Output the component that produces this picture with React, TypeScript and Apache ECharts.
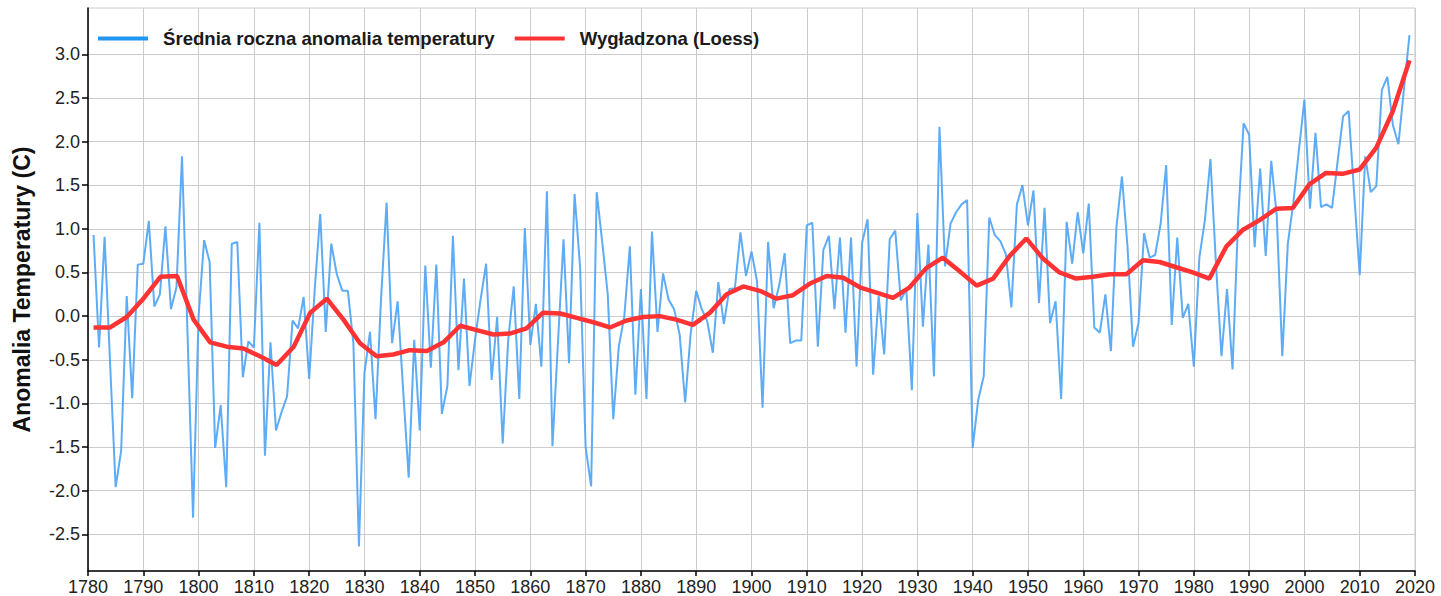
import React, { useEffect, useRef } from "react";
import * as echarts from "echarts";

const START_YEAR = 1781;

// Annual mean temperature anomaly, 1781..2019
const anomalies: number[] = [
  0.93, -0.36, 0.91, -0.55, -1.96, -1.54, 0.23, -0.94, 0.59, // 1781-1789
  0.6, 1.09, 0.11, 0.25, 1.03, 0.08, 0.33, 1.83, -0.2, -2.31, // 1790-1799
  0.0, 0.87, 0.62, -1.51, -1.02, -1.96, 0.83, 0.85, -0.7, -0.29, // 1800-1809
  -0.36, 1.07, -1.6, -0.3, -1.31, -1.1, -0.92, -0.05, -0.14, 0.22, // 1810-1819
  -0.72, 0.3, 1.17, -0.18, 0.83, 0.48, 0.29, 0.29, -0.31, -2.64, // 1820-1829
  -0.65, -0.18, -1.18, 0.2, 1.3, -0.31, 0.17, -0.85, -1.85, -0.27, // 1830-1839
  -1.31, 0.58, -0.59, 0.59, -1.12, -0.8, 0.92, -0.62, 0.43, -0.8, // 1840-1849
  -0.27, 0.19, 0.6, -0.73, -0.01, -1.46, -0.27, 0.34, -0.95, 1.01, // 1850-1859
  -0.33, 0.14, -0.58, 1.43, -1.49, -0.3, 0.88, -0.54, 1.4, 0.56, // 1860-1869
  -1.5, -1.95, 1.42, 0.85, 0.25, -1.18, -0.35, 0.0, 0.8, -0.9, // 1870-1879
  0.31, -0.95, 0.97, -0.18, 0.49, 0.19, 0.08, -0.21, -0.99, -0.2, // 1880-1889
  0.29, 0.08, -0.06, -0.42, 0.39, -0.09, 0.31, 0.32, 0.96, 0.46, // 1890-1899
  0.74, 0.4, -1.05, 0.85, 0.09, 0.35, 0.72, -0.31, -0.28, -0.28, // 1900-1909
  1.04, 1.07, -0.35, 0.76, 0.92, 0.08, 0.9, -0.19, 0.9, -0.58, // 1910-1919
  0.84, 1.11, -0.67, 0.23, -0.44, 0.88, 0.98, 0.18, 0.31, -0.85, // 1920-1929
  1.18, -0.12, 0.82, -0.69, 2.17, 0.57, 1.06, 1.19, 1.28, 1.33, // 1930-1939
  -1.51, -0.96, -0.69, 1.13, 0.93, 0.86, 0.71, 0.1, 1.28, 1.5, // 1940-1949
  1.04, 1.44, 0.15, 1.24, -0.08, 0.17, -0.95, 1.08, 0.6, 1.19, // 1950-1959
  0.72, 1.29, -0.13, -0.19, 0.25, -0.4, 1.02, 1.6, 0.8, -0.35, // 1960-1969
  -0.08, 0.95, 0.67, 0.7, 1.06, 1.73, -0.1, 0.9, -0.02, 0.14, // 1970-1979
  -0.58, 0.67, 1.1, 1.8, 0.6, -0.46, 0.31, -0.61, 1.1, 2.21, // 1980-1989
  2.08, 0.79, 1.69, 0.69, 1.78, 1.15, -0.46, 0.83, 1.3, 1.9, // 1990-1999
  2.48, 1.23, 2.1, 1.25, 1.28, 1.24, 1.77, 2.29, 2.35, 1.4, // 2000-2009
  0.47, 1.83, 1.42, 1.49, 2.59, 2.74, 2.19, 1.97, 2.6, 3.22, // 2010-2019
];

// Loess smoothed curve: evaluation years and values
const loessYears: number[] = [
  1781.0, 1784.0, 1787.0, 1790.0, 1793.1, 1796.1, 1799.1, 1802.1, 1805.1, 1808.1,
  1811.1, 1814.1, 1817.2, 1820.2, 1823.2, 1826.2, 1829.2, 1832.2, 1835.2, 1838.2,
  1841.3, 1844.3, 1847.3, 1850.3, 1853.3, 1856.3, 1859.3, 1862.3, 1865.4, 1868.4,
  1871.4, 1874.4, 1877.4, 1880.4, 1883.4, 1886.4, 1889.4, 1892.5, 1895.5, 1898.5,
  1901.5, 1904.5, 1907.5, 1910.5, 1913.6, 1916.6, 1919.6, 1922.6, 1925.6, 1928.6,
  1931.6, 1934.6, 1937.7, 1940.7, 1943.7, 1946.7, 1949.7, 1952.7, 1955.7, 1958.7,
  1961.8, 1964.8, 1967.8, 1970.8, 1973.8, 1976.8, 1979.8, 1982.8, 1985.9, 1988.9,
  1991.9, 1994.9, 1997.9, 2000.9, 2003.9, 2006.9, 2010.0, 2013.0, 2016.0, 2019.0,
];
const loessValues: number[] = [
  -0.13, -0.13, -0.01, 0.2, 0.45, 0.46, -0.04, -0.3, -0.35, -0.37,
  -0.46, -0.56, -0.35, 0.04, 0.2, -0.04, -0.31, -0.46, -0.44, -0.39,
  -0.4, -0.3, -0.11, -0.16, -0.21, -0.2, -0.14, 0.04, 0.03, -0.02,
  -0.07, -0.13, -0.05, -0.01, 0.0, -0.04, -0.1, 0.04, 0.25, 0.34,
  0.29, 0.2, 0.24, 0.37, 0.46, 0.44, 0.33, 0.27, 0.21, 0.33,
  0.55, 0.67, 0.51, 0.35, 0.43, 0.69, 0.89, 0.66, 0.5, 0.43,
  0.45, 0.48, 0.48, 0.64, 0.62, 0.56, 0.5, 0.43, 0.8, 0.99,
  1.1, 1.23, 1.24, 1.51, 1.64, 1.63, 1.68, 1.93, 2.35, 2.93,
];

const yTickValues: number[] = [-2.5, -2.0, -1.5, -1.0, -0.5, 0.0, 0.5, 1.0, 1.5, 2.0, 2.5, 3.0];

const SERIES_RAW = "Średnia roczna anomalia temperatury";
const SERIES_SMOOTH = "Wygładzona (Loess)";
const Y_NAME = "Anomalia Temperatury (C)";

const FONT = "'Liberation Sans', Arial, Helvetica, sans-serif";

export default function App() {
  const ref = useRef<HTMLDivElement | null>(null);

  useEffect(() => {
    document.body.style.margin = "0";
    if (!ref.current) return;
    const chart = echarts.init(ref.current, null, { renderer: "svg" });

    const rawData = anomalies.map((v, i) => [START_YEAR + i, v]);
    const smoothData = loessYears.map((y, i) => [y, loessValues[i]]);

    chart.setOption({
      animation: false,
      backgroundColor: "#ffffff",
      textStyle: { fontFamily: FONT },
      grid: {
        left: 88,
        right: 26,
        top: 8,
        bottom: 25,
        show: true,
        borderColor: "#cccccc",
        borderWidth: 1,
        containLabel: false,
      },
      legend: {
        left: 93,
        top: 24,
        itemWidth: 50,
        itemHeight: 4,
        itemGap: 20,
        icon: "rect",
        textStyle: {
          fontFamily: FONT,
          fontSize: 18.6,
          fontWeight: "bold",
          color: "#1a1a1a",
          padding: [0, 0, 0, 10],
        },
        data: [
          { name: SERIES_RAW, itemStyle: { color: "#2196F3" } },
          { name: SERIES_SMOOTH, itemStyle: { color: "#FF3333" } },
        ],
      },
      xAxis: {
        type: "value",
        min: 1780,
        max: 2020,
        interval: 10,
        axisLine: { show: true, onZero: false, lineStyle: { color: "#000000", width: 1.5 } },
        axisTick: { show: true, length: 5, lineStyle: { color: "#000000", width: 1.5 } },
        axisLabel: {
          fontFamily: FONT,
          fontSize: 18,
          color: "#222222",
          margin: 7,
          formatter: (v: number) => String(v),
        },
        splitLine: { show: true, lineStyle: { color: "#cccccc", width: 1 } },
      },
      yAxis: {
        type: "value",
        min: -2.92,
        max: 3.53,
        name: Y_NAME,
        nameLocation: "middle",
        nameGap: 55,
        nameTextStyle: { fontFamily: FONT, fontSize: 23, fontWeight: "bold", color: "#111111" },
        axisLine: { show: true, onZero: false, lineStyle: { color: "#000000", width: 1.5 } },
        axisTick: { show: true, length: 6, customValues: yTickValues, lineStyle: { color: "#000000", width: 1.5 } },
        axisLabel: {
          fontFamily: FONT,
          fontSize: 18,
          color: "#222222",
          margin: 8,
          customValues: yTickValues,
          formatter: (v: number) => v.toFixed(1),
        },
        splitLine: { show: true, lineStyle: { color: "#cccccc", width: 1 } },
      },
      series: [
        {
          name: SERIES_RAW,
          type: "line",
          data: rawData,
          showSymbol: false,
          symbol: "none",
          color: "#4DA3F5",
          lineStyle: { color: "#4DA3F5", width: 2, opacity: 0.9 },
          z: 2,
        },
        {
          name: SERIES_SMOOTH,
          type: "line",
          data: smoothData,
          showSymbol: false,
          symbol: "none",
          color: "#FF3333",
          lineStyle: { color: "#FF3333", width: 4.5 },
          z: 3,
        },
      ],
    });

    return () => {
      chart.dispose();
    };
  }, []);

  return <div ref={ref} style={{ width: 1441, height: 596 }} />;
}
